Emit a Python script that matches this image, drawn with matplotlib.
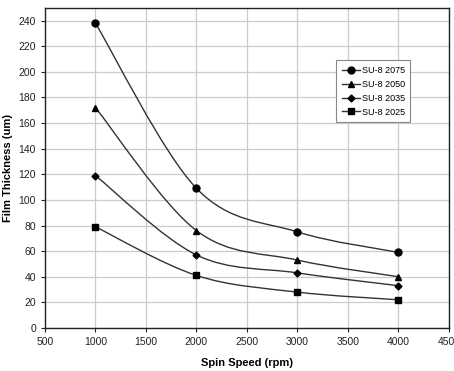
import numpy as np
import matplotlib
matplotlib.use("Agg")
import matplotlib.pyplot as plt
from matplotlib.path import Path
from matplotlib.patches import PathPatch

plt.rcParams['font.family'] = ['Liberation Sans', 'DejaVu Sans']

# data
speed = [1000, 2000, 3000, 4000]
su8_2075 = [238, 109, 75, 59]
su8_2050 = [172, 76, 53, 40]
su8_2035 = [119, 57, 43, 33]
su8_2025 = [79, 41, 28, 22]

series = [("SU-8 2075", su8_2075, "o", 5),
          ("SU-8 2050", su8_2050, "^", 5),
          ("SU-8 2035", su8_2035, "D", 3.5),
          ("SU-8 2025", su8_2025, "s", 5)]


def smooth_path(ax, xs, ys):
    # Excel-style smoothed line: cubic bezier segments (catmull-rom tangents)
    p = np.column_stack([xs, ys]).astype(float)
    p = ax.transData.transform(p)
    verts = [p[0]]
    codes = [Path.MOVETO]
    n = len(p)
    for i in range(n - 1):
        p0 = p[i - 1] if i > 0 else p[i]
        p1 = p[i]
        p2 = p[i + 1]
        p3 = p[i + 2] if i + 2 < n else p[i + 1]
        c1 = p1 + (p2 - p0) / 6.0
        c2 = p2 - (p3 - p1) / 6.0
        verts += [c1, c2, p2]
        codes += [Path.CURVE4] * 3
    return PathPatch(Path(verts, codes), facecolor='none', edgecolor='#333333',
                     lw=1.0, transform=None, zorder=3)


fig = plt.figure(figsize=(4.54, 3.71), dpi=100)
ax = fig.add_axes([0.099, 0.116, 0.89, 0.863])
ax.set_xlim(500, 4500)
ax.set_ylim(0, 250)
ax.set_xticks(np.arange(500, 4501, 500))
ax.set_yticks(np.arange(0, 241, 20))
ax.grid(True, color='#cccccc', lw=0.9)
ax.set_axisbelow(True)
ax.tick_params(labelsize=7.5, length=3, width=0.8, colors='#222222')
for s in ax.spines.values():
    s.set_color('#222222')
    s.set_linewidth(1.0)

ax.set_xlabel("Spin Speed (rpm)", fontsize=8, fontweight='bold', labelpad=8)
ax.set_ylabel("Film Thickness (um)", fontsize=8, fontweight='bold', labelpad=4)

fig.canvas.draw()
handles = []
for name, vals, mk, ms in series:
    ax.add_artist(smooth_path(ax, speed, vals))
    h, = ax.plot(speed, vals, marker=mk, ms=ms, color='black', lw=0, zorder=4)
    handles.append(plt.Line2D([], [], color='#333333', lw=1, marker=mk, ms=ms,
                              markerfacecolor='black', markeredgecolor='black'))

leg = ax.legend(handles, [s[0] for s in series], loc='upper left',
                bbox_to_anchor=(0.71, 0.85), fontsize=6.5, handlelength=2.0,
                handletextpad=0.2, labelspacing=0.55, borderpad=0.6,
                fancybox=False, framealpha=1, edgecolor='#888888')
leg.get_frame().set_linewidth(0.8)

fig.savefig("out.png", dpi=100)
